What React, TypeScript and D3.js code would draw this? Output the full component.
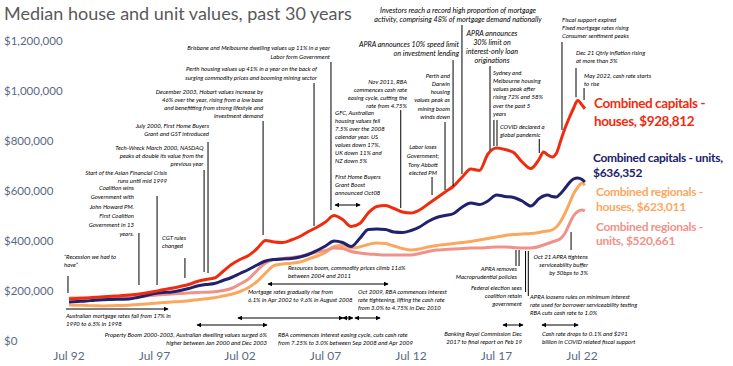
import * as d3 from "d3";

// decimal years, Jul 92 = 1992.5
const dates = [
  1992.5, 1993.0, 1993.5, 1994.0, 1994.5, 1995.0, 1995.5, 1996.0, 1996.5, 1997.0,
  1997.5, 1998.0, 1998.5, 1999.0, 1999.5, 2000.0, 2000.5, 2001.0, 2001.5, 2002.0,
  2002.5, 2003.0, 2003.5, 2004.0, 2004.5, 2005.0, 2005.5, 2006.0, 2006.5, 2007.0,
  2007.5, 2008.0, 2008.5, 2009.0, 2009.5, 2010.0, 2010.5, 2011.0, 2011.5, 2012.0,
  2012.5, 2013.0, 2013.5, 2014.0, 2014.5, 2015.0, 2015.5, 2016.0, 2016.5, 2017.0,
  2017.5, 2018.0, 2018.5, 2019.0, 2019.5, 2020.0, 2020.25, 2020.5, 2020.75, 2021.0,
  2021.25, 2021.5, 2021.75, 2022.0, 2022.25, 2022.5, 2022.67,
];

// median values, $'000
const capitalHouses = [
  168, 170, 172, 175, 177, 179, 181, 184, 187, 192,
  198, 205, 211, 218, 226, 238, 246, 252, 278, 306,
  326, 342, 370, 402, 396, 394, 404, 418, 438, 455,
  476, 502, 486, 458, 470, 512, 538, 542, 530, 516,
  512, 524, 548, 572, 596, 620, 656, 688, 682, 748,
  772, 766, 754, 716, 690, 728, 756, 744, 736, 750,
  800, 850, 892, 930, 962, 944, 929,
];
const capitalUnits = [
  156, 158, 160, 163, 165, 166, 167, 168, 174, 182,
  190, 194, 196, 202, 210, 220, 226, 230, 242, 254,
  270, 286, 304, 320, 326, 328, 330, 336, 346, 362,
  380, 400, 394, 378, 410, 446, 448, 446, 436, 434,
  442, 456, 478, 494, 502, 510, 536, 552, 546, 560,
  584, 578, 574, 560, 540, 570, 580, 584, 578, 576,
  590, 610, 632, 648, 652, 646, 636,
];
const regionalHouses = [
  144, 143, 142, 141, 140, 141, 142, 143, 146, 148,
  151, 154, 156, 158, 161, 165, 169, 173, 180, 187,
  198, 214, 238, 272, 302, 308, 311, 316, 328, 340,
  354, 378, 382, 372, 376, 386, 392, 390, 380, 370,
  364, 368, 376, 382, 386, 390, 394, 398, 404, 410,
  416, 422, 426, 428, 430, 434, 438, 440, 444, 456,
  478, 510, 548, 588, 614, 632, 623,
];
const regionalUnits = [
  172, 172, 172, 172, 172, 173, 174, 175, 177, 180,
  183, 186, 188, 190, 192, 194, 195, 197, 202, 210,
  228, 248, 282, 312, 326, 330, 334, 338, 348, 356,
  362, 372, 370, 358, 352, 348, 346, 344, 344, 344,
  344, 350, 358, 364, 366, 368, 370, 372, 372, 374,
  376, 376, 374, 372, 372, 378, 384, 390, 396, 402,
  410, 430, 466, 500, 518, 524, 521,
];

const yTicks = [0, 200, 400, 600, 800, 1000, 1200];
const xTicks = [1992.5, 1997.5, 2002.5, 2007.5, 2012.5, 2017.5, 2022.5];
const xTickLabels = ["Jul 92", "Jul 97", "Jul 02", "Jul 07", "Jul 12", "Jul 17", "Jul 22"];

const seriesLabels = [
  ["Combined capitals -", "houses, $928,812"],
  ["Combined capitals - units,", "$636,352"],
  ["Combined regionals -", "houses, $623,011"],
  ["Combined regionals -", "units, $520,661"],
];

type Leader = { date: number; top: number; bottom: number };
type Arrow = { from: number; to: number; at: number; heads: 1 | 2 };
type Note = {
  lines: string[];
  tx: number;
  ty: number;
  anchor: "start" | "middle" | "end";
  big?: boolean;
  gap?: number;
  leaders?: Leader[];
  arrows?: Arrow[];
};

// events: tx = date, ty = value ($'000) of the first text line
const notes: Note[] = [
  { lines: ["\u201cRecession we had to", "have\u201d"], tx: 1992.21, ty: 336, anchor: "start", leaders: [{ date: 1992.44, top: 260, bottom: 192 }] },
  { lines: ["Coalition wins", "Government with", "John Howard PM.", "First Coalition", "Government in 13", "years."], tx: 1996.3, ty: 612, anchor: "end", gap: 9.2, leaders: [{ date: 1996.59, top: 432, bottom: 224 }] },
  { lines: ["Start of the Asian Financial Crisis", "runs until mid 1999"], tx: 1998.23, ty: 672, anchor: "end", leaders: [{ date: 1997.65, top: 580, bottom: 224 }] },
  { lines: ["Tech-Wreck March 2000, NASDAQ", "peaks at double its value from the", "previous year"], tx: 2000.36, ty: 772, anchor: "end", leaders: [{ date: 2000.4, top: 684, bottom: 276 }] },
  { lines: ["July 2000, First Home Buyers", "Grant and GST introduced"], tx: 2000.69, ty: 860, anchor: "end", leaders: [{ date: 2000.63, top: 796, bottom: 272 }] },
  { lines: ["CGT rules", "changed"], tx: 1997.94, ty: 412, anchor: "start", leaders: [{ date: 1999.28, top: 332, bottom: 252 }] },
  { lines: ["December 2003, Hobart values increase by", "46% over the year, rising from a low base", "and benefitting from strong lifestyle and", "investment demand"], tx: 2003.85, ty: 996, anchor: "end", leaders: [{ date: 2003.85, top: 880, bottom: 424 }] },
  { lines: ["Perth housing values up 41% in a year on the back of", "surging commodity prices and booming mining sector"], tx: 2007.0, ty: 1088, anchor: "end", gap: 9, leaders: [{ date: 2006.83, top: 1032, bottom: 460 }] },
  { lines: ["Brisbane and Melbourne dwelling values up 11% in a year", "Labor form Government"], tx: 2007.76, ty: 1172, anchor: "end", gap: 9, leaders: [{ date: 2007.82, top: 1116, bottom: 524 }] },
  { lines: ["GFC, Australian", "housing values fell", "7.5% over the 2008", "calendar year. US", "values down 17%,", "UK down 11% and", "NZ down 5%", "", "First Home Buyers", "Grant Boost", "announced Oct08"], tx: 2008.06, ty: 912, anchor: "start", gap: 8, arrows: [{ from: 2008.06, to: 2009.52, at: 544, heads: 2 }] },
  { lines: ["Nov 2011, RBA", "commences cash rate", "easing cycle, cutting the", "rate from 4.75%"], tx: 2012.27, ty: 1036, anchor: "end", leaders: [{ date: 2011.9, top: 924, bottom: 532 }] },
  { lines: ["APRA announces  10% speed limit", "on investment lending"], tx: 2015.31, ty: 1188, anchor: "end", big: true, leaders: [{ date: 2014.96, top: 1124, bottom: 620 }] },
  { lines: ["Investors reach a record high proportion of mortgage", "activity, comprising 48% of mortgage demand nationally"], tx: 2015.25, ty: 1324, anchor: "middle", big: true, gap: 9, leaders: [{ date: 2015.48, top: 1264, bottom: 668 }] },
  { lines: ["Perth and", "Darwin", "housing", "values peak as", "mining boom", "winds down"], tx: 2014.78, ty: 1060, anchor: "end", leaders: [{ date: 2014.49, top: 876, bottom: 604 }] },
  { lines: ["Labor loses", "Government;", "Tony Abbott", "elected PM"], tx: 2013.2, ty: 776, anchor: "middle", gap: 8.7, leaders: [{ date: 2013.73, top: 656, bottom: 584 }] },
  { lines: ["APRA announces", "30% limit on", "interest-only loan", "originations"], tx: 2017.24, ty: 1232, anchor: "middle", big: true, leaders: [{ date: 2017.12, top: 1100, bottom: 764 }] },
  { lines: ["Sydney and", "Melbourne housing", "values peak after", "rising 72% and 58%", "over the past 5", "years"], tx: 2017.3, ty: 1072, anchor: "start", leaders: [{ date: 2017.35, top: 884, bottom: 780 }, { date: 2017.53, top: 884, bottom: 780 }] },
  { lines: ["COVID declared a", "global pandemic"], tx: 2017.7, ty: 856, anchor: "start", leaders: [{ date: 2020.0, top: 808, bottom: 752 }] },
  { lines: ["Fiscal support expired", "Fixed mortgage rates rising", "Consumer sentiment peaks"], tx: 2021.33, ty: 1284, anchor: "start", leaders: [{ date: 2021.33, top: 1196, bottom: 844 }] },
  { lines: ["Dec 21 Qtrly inflation rising", "at more than 3%"], tx: 2022.15, ty: 1152, anchor: "start", leaders: [{ date: 2022.15, top: 1092, bottom: 975 }] },
  { lines: ["May 2022, cash rate starts", "to rise"], tx: 2022.62, ty: 1060, anchor: "start", leaders: [{ date: 2022.62, top: 1012, bottom: 964 }] },
  { lines: ["Oct 21 APRA tightens", "serviceability buffer", "by 50bps to 3%"], tx: 2022.85, ty: 336, anchor: "end", leaders: [{ date: 2021.86, top: 436, bottom: 364 }] },
  { lines: ["APRA removes", "Macroprudential policies"], tx: 2018.7, ty: 288, anchor: "end", leaders: [{ date: 2018.64, top: 364, bottom: 300 }, { date: 2018.82, top: 364, bottom: 300 }] },
  { lines: ["Federal election sees", "coalition retain", "government"], tx: 2018.99, ty: 212, anchor: "end", leaders: [{ date: 2019.2, top: 360, bottom: 196 }] },
  { lines: ["APRA loosens rules on minimum interest", "rate used for borrower serviceability testing", "RBA cuts cash rate to 1.0%"], tx: 2019.46, ty: 176, anchor: "start", leaders: [{ date: 2019.36, top: 360, bottom: 180 }] },
  { lines: ["Banking Royal Commission Dec", "2017 to final report on Feb 19"], tx: 2018.99, ty: 28, anchor: "end", arrows: [{ from: 2017.88, to: 2019.05, at: 64, heads: 2 }] },
  { lines: ["Cash rate drops to 0.1% and $291", "billion in COVID related fiscal support"], tx: 2020.16, ty: 28, anchor: "start", arrows: [{ from: 2020.16, to: 2022.27, at: 64, heads: 2 }] },
  { lines: ["Australian mortgage rates fall from 17% in", "1990 to 6.5% in 1998"], tx: 1992.32, ty: 100, anchor: "start", gap: 7.5, arrows: [{ from: 1992.32, to: 1998.29, at: 128, heads: 1 }] },
  { lines: ["Property Boom 2000-2003, Australian dwelling values surged 6%", "higher between Jan 2000 and Dec 2003"], tx: 2004.08, ty: 24, anchor: "end", arrows: [{ from: 1999.99, to: 2004.08, at: 64, heads: 2 }] },
  { lines: ["Mortgage rates gradually rise from", "6.1% in Apr 2002 to 9.6% in August 2008"], tx: 2002.97, ty: 196, anchor: "start", arrows: [{ from: 2002.38, to: 2008.52, at: 92, heads: 2 }] },
  { lines: ["Resources boom, commodity prices climb 116%", "between 2004 and 2011"], tx: 2005.31, ty: 292, anchor: "start", gap: 7.5, arrows: [{ from: 2004.14, to: 2011.16, at: 228, heads: 2 }] },
  { lines: ["Oct 2009, RBA commences interest", "rate tightening, lifting the cash rate", "from 3.0% to 4.75% in Dec 2010"], tx: 2009.4, ty: 196, anchor: "start", arrows: [{ from: 2008.52, to: 2009.1, at: 92, heads: 2 }, { from: 2009.22, to: 2010.69, at: 92, heads: 2 }] },
  { lines: ["RBA commences interest easing cycle, cuts cash rate", "from 7.25% to 3.0% between Sep 2008 and Apr 2009"], tx: 2004.72, ty: 24, anchor: "start" },
];

const W = 733;
const H = 366;
const FONT = "Lato, 'Open Sans', sans-serif";
const AXIS_COLOR = "#5b6a86";
const colors = ["#ef2d0e", "#20216f", "#fba85e", "#f0928a"];
const labelLayout = [
  { x: 594, ys: [108, 126], size: 13.5, ls: -0.4 },
  { x: 593, ys: [162, 177], size: 12, ls: -0.3 },
  { x: 596, ys: [196, 211], size: 12, ls: -0.3 },
  { x: 596, ys: [231, 245], size: 12, ls: -0.3 },
];

export default function App() {
  const x = d3.scaleLinear().domain([1992.5, 2022.5]).range([69, 582]);
  const y = d3.scaleLinear().domain([0, 1200]).range([341, 41]);

  const series = [capitalHouses, capitalUnits, regionalHouses, regionalUnits];
  const line = d3
    .line<number>()
    .x((_, i) => x(dates[i]))
    .y((d) => y(d))
    .curve(d3.curveMonotoneX);
  const drawOrder = [2, 3, 1, 0];
  const fmt = d3.format(",");

  return (
    <div style={{ position: "absolute", left: 0, top: 0 }}>
      <svg width={W} height={H} style={{ display: "block", background: "#fff" }} fontFamily={FONT}>
        <defs>
          <marker id="ah" viewBox="0 0 8 8" refX="7" refY="4" markerWidth="5" markerHeight="5" orient="auto-start-reverse">
            <path d="M0,0 L8,4 L0,8 z" fill="#000" />
          </marker>
        </defs>

        <text x={4} y={20} fontSize={18} fill="#595959">
          Median house and unit values, past 30 years
        </text>

        {yTicks.map((t) => (
          <text key={t} x={4} y={y(t)} dy="0.35em" fontSize={11.5} fill={AXIS_COLOR}>
            {"$" + fmt(t * 1000)}
          </text>
        ))}
        {xTicks.map((t, i) => (
          <text key={t} x={x(t)} y={356} dy="0.35em" fontSize={12} fill={AXIS_COLOR} textAnchor="middle">
            {xTickLabels[i]}
          </text>
        ))}

        {drawOrder.map((k) => (
          <path key={k} d={line(series[k]) || ""} fill="none" stroke={colors[k]} strokeWidth={3} strokeLinejoin="round" />
        ))}

        {seriesLabels.map((ls, k) => (
          <text key={k} fontSize={labelLayout[k].size} letterSpacing={labelLayout[k].ls} fontWeight={700} fill={colors[k]}>
            {ls.map((s, j) => (
              <tspan key={j} x={labelLayout[k].x} y={labelLayout[k].ys[j]}>
                {s}
              </tspan>
            ))}
          </text>
        ))}

        {notes.map((n, i) => {
          const gap = n.gap ?? (n.big ? 9.3 : 8.1);
          return (
            <g key={i}>
              {(n.leaders || []).map((l, j) => (
                <line key={j} x1={x(l.date)} x2={x(l.date)} y1={y(l.top)} y2={y(l.bottom)} stroke="#000" strokeWidth={1} />
              ))}
              {(n.arrows || []).map((a, j) => (
                <line
                  key={"a" + j}
                  x1={x(a.from)}
                  x2={x(a.to)}
                  y1={y(a.at)}
                  y2={y(a.at)}
                  stroke="#000"
                  strokeWidth={1}
                  markerEnd="url(#ah)"
                  markerStart={a.heads === 2 ? "url(#ah)" : undefined}
                />
              ))}
              <text fontSize={n.big ? 7.2 : 6} fontStyle="italic" fill="#000" textAnchor={n.anchor}>
                {n.lines.map((s, j) => (
                  <tspan key={j} x={x(n.tx)} y={y(n.ty) + j * gap} dy="0.35em">
                    {s}
                  </tspan>
                ))}
              </text>
            </g>
          );
        })}
      </svg>
    </div>
  );
}
